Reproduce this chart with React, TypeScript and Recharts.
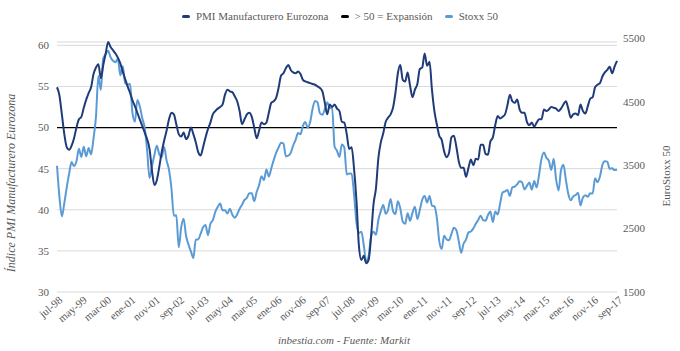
import React from 'react';
import { LineChart, Line, XAxis, YAxis, CartesianGrid, ReferenceLine } from 'recharts';

const FONT = '"Liberation Serif", "Times New Roman", serif';
const TXT = '#595959';

const monthAbbr = ['ene', 'feb', 'mar', 'abr', 'may', 'jun', 'jul', 'ago', 'sep', 'oct', 'nov', 'dic'];
const startYear = 1998;
const startMonth = 6; // jul
const nMonths = 231; // jul-98 .. sep-17

const categories: string[] = [];
for (let k = 0; k < nMonths; k++) {
  const m = (startMonth + k) % 12;
  const y = startYear + Math.floor((startMonth + k) / 12);
  categories.push(`${monthAbbr[m]}-${String(y).slice(2)}`);
}

// PMI Manufacturero Eurozona (jul-98 .. sep-17)
const pmi = [
  54.9, 53.9, 51.6, 49.2, 47.6, 47.3,
  47.8, 48.7, 50.0, 51.0, 51.3, 52.4, 53.4, 54.2, 54.9, 56.5, 57.3, 57.7,
  56.0, 57.6, 59.0, 60.4, 59.8, 59.4, 59.0, 58.5, 57.8, 56.8, 55.9, 55.0,
  54.2, 53.3, 52.6, 51.8, 51.0, 50.2, 49.4, 48.6, 47.4, 44.8, 43.0, 43.6,
  45.2, 47.0, 48.4, 49.6, 51.0, 51.8, 51.6, 50.4, 49.2, 48.9, 49.4, 48.6,
  49.0, 50.0, 49.2, 48.2, 47.0, 46.6, 47.6, 48.8, 49.8, 50.6, 51.6, 52.0,
  52.3, 52.5, 52.8, 54.0, 54.6, 54.4, 54.3, 53.8, 53.2, 52.0, 50.4, 51.0,
  51.6, 51.8, 51.3, 50.0, 48.7, 49.6, 50.6, 50.4, 50.6, 51.8, 53.0, 53.2,
  53.6, 54.8, 56.3, 56.6, 57.2, 57.6, 57.0, 56.7, 56.6, 56.8, 56.5, 55.8,
  55.6, 55.5, 55.4, 55.3, 55.2, 55.0, 54.8, 54.4, 53.0, 51.6, 52.8, 52.5,
  52.8, 52.3, 52.0, 50.7, 50.6, 49.2, 47.4, 47.6, 45.0, 41.1, 35.6, 33.9,
  34.4, 33.5, 33.9, 36.8, 40.7, 42.6, 46.3, 48.2, 49.3, 50.7, 51.2, 51.6,
  52.4, 54.2, 56.6, 57.6, 55.8, 55.6, 56.7, 55.1, 53.7, 54.6, 55.3, 57.1,
  57.3, 59.0, 57.5, 58.0, 54.6, 52.0, 50.4, 49.0, 48.5, 47.1, 46.4, 46.9,
  48.8, 49.0, 47.7, 45.9, 45.1, 45.1, 44.0, 45.1, 46.1, 45.4, 46.2, 46.1,
  47.9, 47.9, 46.8, 46.7, 48.3, 48.8, 50.3, 51.4, 51.1, 51.3, 51.6, 52.7,
  54.0, 53.2, 53.0, 53.4, 52.2, 51.8, 51.8, 50.7, 50.3, 50.6, 50.1, 50.6,
  51.0, 51.0, 52.2, 52.0, 52.2, 52.5, 52.4, 52.3, 52.0, 52.3, 52.8, 53.2,
  52.3, 51.2, 51.6, 51.7, 51.5, 52.8, 52.0, 51.7, 52.6, 53.5, 53.7, 54.9,
  55.2, 55.4, 56.2, 56.7, 57.0, 57.4, 56.6, 57.4, 58.1,
];

// Stoxx 50 (jul-98 .. sep-17)
const stoxx = [
  3490, 3000, 2690, 2900, 3150, 3370,
  3547, 3484, 3559, 3757, 3629, 3788, 3638, 3769, 3669, 3922, 4260, 4904,
  4684, 5182, 5249, 5303, 5200, 5145, 5122, 5175, 4915, 5058, 4790, 4772,
  4779, 4318, 4185, 4526, 4426, 4243, 4092, 3744, 3297, 3479, 3659, 3806,
  3670, 3625, 3784, 3574, 3425, 3133, 2702, 2710, 2204, 2518, 2656, 2386,
  2248, 2141, 2036, 2324, 2330, 2419, 2520, 2557, 2395, 2575, 2631, 2761,
  2839, 2894, 2787, 2788, 2737, 2811, 2720, 2671, 2726, 2811, 2876, 2951,
  2985, 3058, 3056, 2930, 3076, 3182, 3326, 3263, 3429, 3320, 3447, 3579,
  3692, 3775, 3854, 3839, 3637, 3648, 3692, 3809, 3899, 4004, 3987, 4120,
  4178, 4088, 4182, 4393, 4512, 4489, 4315, 4294, 4381, 4490, 4400, 4400,
  3792, 3724, 3628, 3826, 3777, 3352, 3367, 3365, 3038, 2591, 2430, 2451,
  2237, 1976, 2071, 2375, 2451, 2401, 2639, 2775, 2873, 2732, 2797, 2966,
  2776, 2729, 2931, 2817, 2610, 2574, 2742, 2623, 2748, 2845, 2651, 2793,
  2954, 3013, 2911, 3011, 2862, 2849, 2671, 2302, 2179, 2385, 2330, 2317,
  2416, 2512, 2477, 2306, 2118, 2264, 2325, 2440, 2454, 2503, 2575, 2636,
  2703, 2633, 2624, 2712, 2770, 2603, 2768, 2721, 2893, 3068, 3086, 3109,
  3013, 3149, 3162, 3198, 3245, 3228, 3116, 3172, 3226, 3113, 3251, 3146,
  3351, 3599, 3697, 3616, 3570, 3424, 3600, 3270, 3101, 3418, 3506, 3268,
  3045, 2946, 3005, 3028, 3063, 2865, 2991, 3023, 3002, 3055, 3052, 3291,
  3231, 3320, 3501, 3560, 3555, 3442, 3449, 3421, 3430,
];

const expansionLevel = 50;
const leftTicks = [30, 35, 40, 45, 50, 55, 60];
const rightTicks = [1500, 2500, 3500, 4500, 5500];

const legendItems = [
  { label: 'PMI Manufacturero Eurozona', color: '#1f3c78' },
  { label: '> 50 = Expansión', color: '#000000' },
  { label: 'Stoxx 50', color: '#5b9bd5' },
];

const leftTitle = 'Índice PMI Manufacturero Eurozona';
const rightTitle = 'EuroStoxx 50';
const caption = 'inbestia.com - Fuente: Markit';

const data = categories.map((month, i) => ({ month, pmi: pmi[i], stoxx: stoxx[i] }));

const XTick = (props: any) => {
  const { x, y, payload } = props;
  return (
    <g transform={`translate(${x},${y})`}>
      <text
        x={4}
        y={5}
        textAnchor="end"
        transform="rotate(-40)"
        fontSize={11}
        fill={TXT}
        style={{ fontFamily: FONT }}
      >
        {payload.value}
      </text>
    </g>
  );
};

export default function App() {
  return (
    <div
      style={{
        position: 'absolute',
        left: 0,
        top: 0,
        width: 680,
        height: 351,
        background: '#ffffff',
        fontFamily: FONT,
      }}
    >
      <LineChart width={680} height={351} data={data} margin={{ top: 42, right: 0, bottom: 0, left: 0 }}>
        <CartesianGrid yAxisId="left" vertical={false} stroke="#d9d9d9" />
        <XAxis
          dataKey="month"
          interval={9}
          height={59}
          tick={<XTick />}
          axisLine={false}
          tickLine={false}
        />
        <YAxis
          yAxisId="left"
          domain={[30, 60]}
          ticks={leftTicks}
          interval={0}
          width={57}
          axisLine={false}
          tickLine={false}
          tick={{ fontSize: 11, fill: TXT, style: { fontFamily: FONT } }}
          label={() => (
            <text
              x={12}
              y={183}
              transform="rotate(-90 12 183)"
              textAnchor="middle"
              dominantBaseline="middle"
              fontSize={12}
              fontStyle="italic"
              fill={TXT}
              style={{ fontFamily: FONT }}
            >
              {leftTitle}
            </text>
          )}
        />
        <YAxis
          yAxisId="right"
          orientation="right"
          domain={[1500, 5440]}
          allowDataOverflow
          ticks={rightTicks}
          interval={0}
          width={63}
          tickSize={4}
          axisLine={false}
          tickLine={false}
          tick={{ fontSize: 11, fill: TXT, style: { fontFamily: FONT } }}
          label={() => (
            <text
              x={667}
              y={176}
              transform="rotate(-90 667 176)"
              textAnchor="middle"
              dominantBaseline="middle"
              fontSize={11}
              fill={TXT}
              style={{ fontFamily: FONT }}
            >
              {rightTitle}
            </text>
          )}
        />
        <ReferenceLine yAxisId="left" y={expansionLevel} stroke="#000000" strokeWidth={1.3} />
        <Line
          yAxisId="right"
          dataKey="stoxx"
          type="monotone"
          stroke="#5b9bd5"
          strokeWidth={2}
          dot={false}
          isAnimationActive={false}
        />
        <Line
          yAxisId="left"
          dataKey="pmi"
          type="monotone"
          stroke="#1f3c78"
          strokeWidth={2}
          dot={false}
          isAnimationActive={false}
        />
      </LineChart>
      <div
        style={{
          position: 'absolute',
          top: 9,
          left: 0,
          width: 680,
          display: 'flex',
          justifyContent: 'center',
          alignItems: 'center',
          fontSize: 11,
          color: TXT,
          lineHeight: '14px',
        }}
      >
        {legendItems.map((it) => (
          <div key={it.label} style={{ display: 'flex', alignItems: 'center', margin: '0 6px' }}>
            <span
              style={{
                display: 'inline-block',
                width: 8,
                height: 3,
                borderRadius: 2,
                background: it.color,
                marginRight: 6,
              }}
            />
            <span>{it.label}</span>
          </div>
        ))}
      </div>
      <div
        style={{
          position: 'absolute',
          top: 333,
          left: 4,
          width: 680,
          textAlign: 'center',
          fontSize: 11,
          fontStyle: 'italic',
          color: TXT,
          lineHeight: '14px',
        }}
      >
        {caption}
      </div>
    </div>
  );
}
